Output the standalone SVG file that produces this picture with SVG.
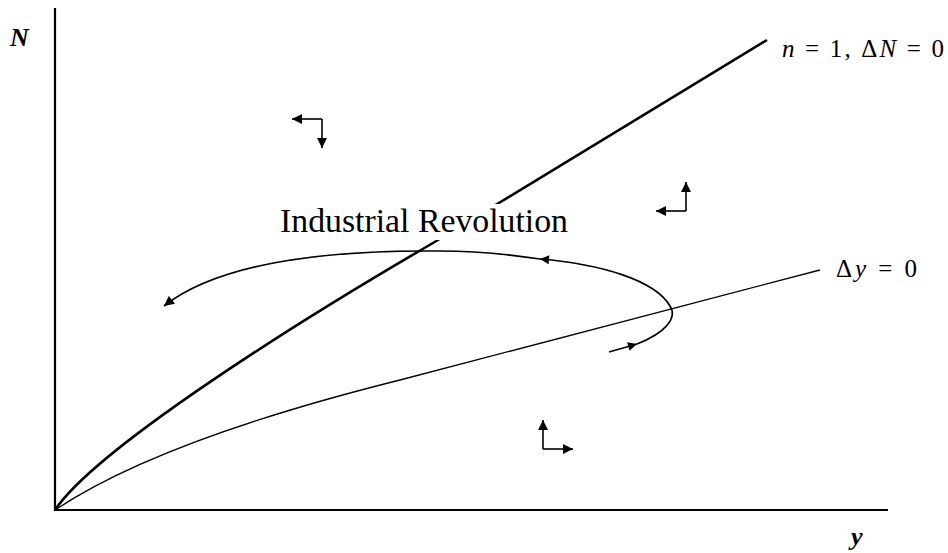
<svg xmlns="http://www.w3.org/2000/svg" width="948" height="553" viewBox="0 0 948 553">
<style>
.ax{stroke:#000;stroke-width:2.2;fill:none}
.thick{stroke:#000;stroke-width:2.6;fill:none}
.thin{stroke:#000;stroke-width:1.3;fill:none}
.sm{stroke:#000;stroke-width:1.6;fill:none}
.lbl{font-family:"Liberation Serif","Times New Roman",serif;fill:#000}
</style>
<defs>
<marker id="ah" viewBox="0 0 10 10" refX="10" refY="5" markerWidth="11" markerHeight="10" markerUnits="userSpaceOnUse" orient="auto">
<path d="M0,0 L10,5 L0,10 Z" fill="#000"/>
</marker>
<marker id="ahs" viewBox="0 0 10 10" refX="10" refY="5" markerWidth="10" markerHeight="9" markerUnits="userSpaceOnUse" orient="auto">
<path d="M0,0 L10,5 L0,10 Z" fill="#000"/>
</marker>
</defs>
<g id="axes">
<path class="ax" d="M55,8 L55,510 L888,510"/>
<text class="lbl" x="10" y="46" font-size="26" font-weight="bold" font-style="italic">N</text>
<text class="lbl" x="851" y="545" font-size="26" font-weight="bold" font-style="italic">y</text>
</g>
<g id="connectors">
<path id="nline" class="thick" d="M55,510 C95,450 290,326 433,243 L767,40"/>
<path id="yline" class="thin" d="M55,510 Q160,440 400,380 L820,270"/>
<path id="loop" class="sm" d="M609,352 L637,344" marker-end="url(#ahs)"/>
<path class="sm" d="M637,344 C665,333 678,318 670,306 C655,280 600,264 540,259" marker-end="url(#ahs)"/>
<path class="sm" d="M540,259 C500,253 470,251 440,251 C330,250 220,262 164,306" marker-end="url(#ah)"/>
</g>
<g id="arrows-tl">
<path class="sm" d="M322,119 L292,119" marker-end="url(#ah)"/>
<path class="sm" d="M322,119 L322,148" marker-end="url(#ah)"/>
</g>
<g id="arrows-tr">
<path class="sm" d="M686,211 L686,182" marker-end="url(#ah)"/>
<path class="sm" d="M686,211 L656,211" marker-end="url(#ah)"/>
</g>
<g id="arrows-br">
<path class="sm" d="M543,449 L543,420" marker-end="url(#ah)"/>
<path class="sm" d="M543,449 L573,449" marker-end="url(#ah)"/>
</g>
<g id="labels">
<rect x="278" y="204" width="292" height="36" fill="#fff"/>
<text class="lbl" x="280" y="232" font-size="33" textLength="288" lengthAdjust="spacingAndGlyphs">Industrial Revolution</text>
<text class="lbl" x="782" y="57" font-size="25" textLength="162" lengthAdjust="spacing"><tspan font-style="italic">n</tspan> = 1, Δ<tspan font-style="italic">N</tspan> = 0</text>
<text class="lbl" x="836" y="277" font-size="25" textLength="81" lengthAdjust="spacing">Δ<tspan font-style="italic">y</tspan> = 0</text>
</g>
</svg>
